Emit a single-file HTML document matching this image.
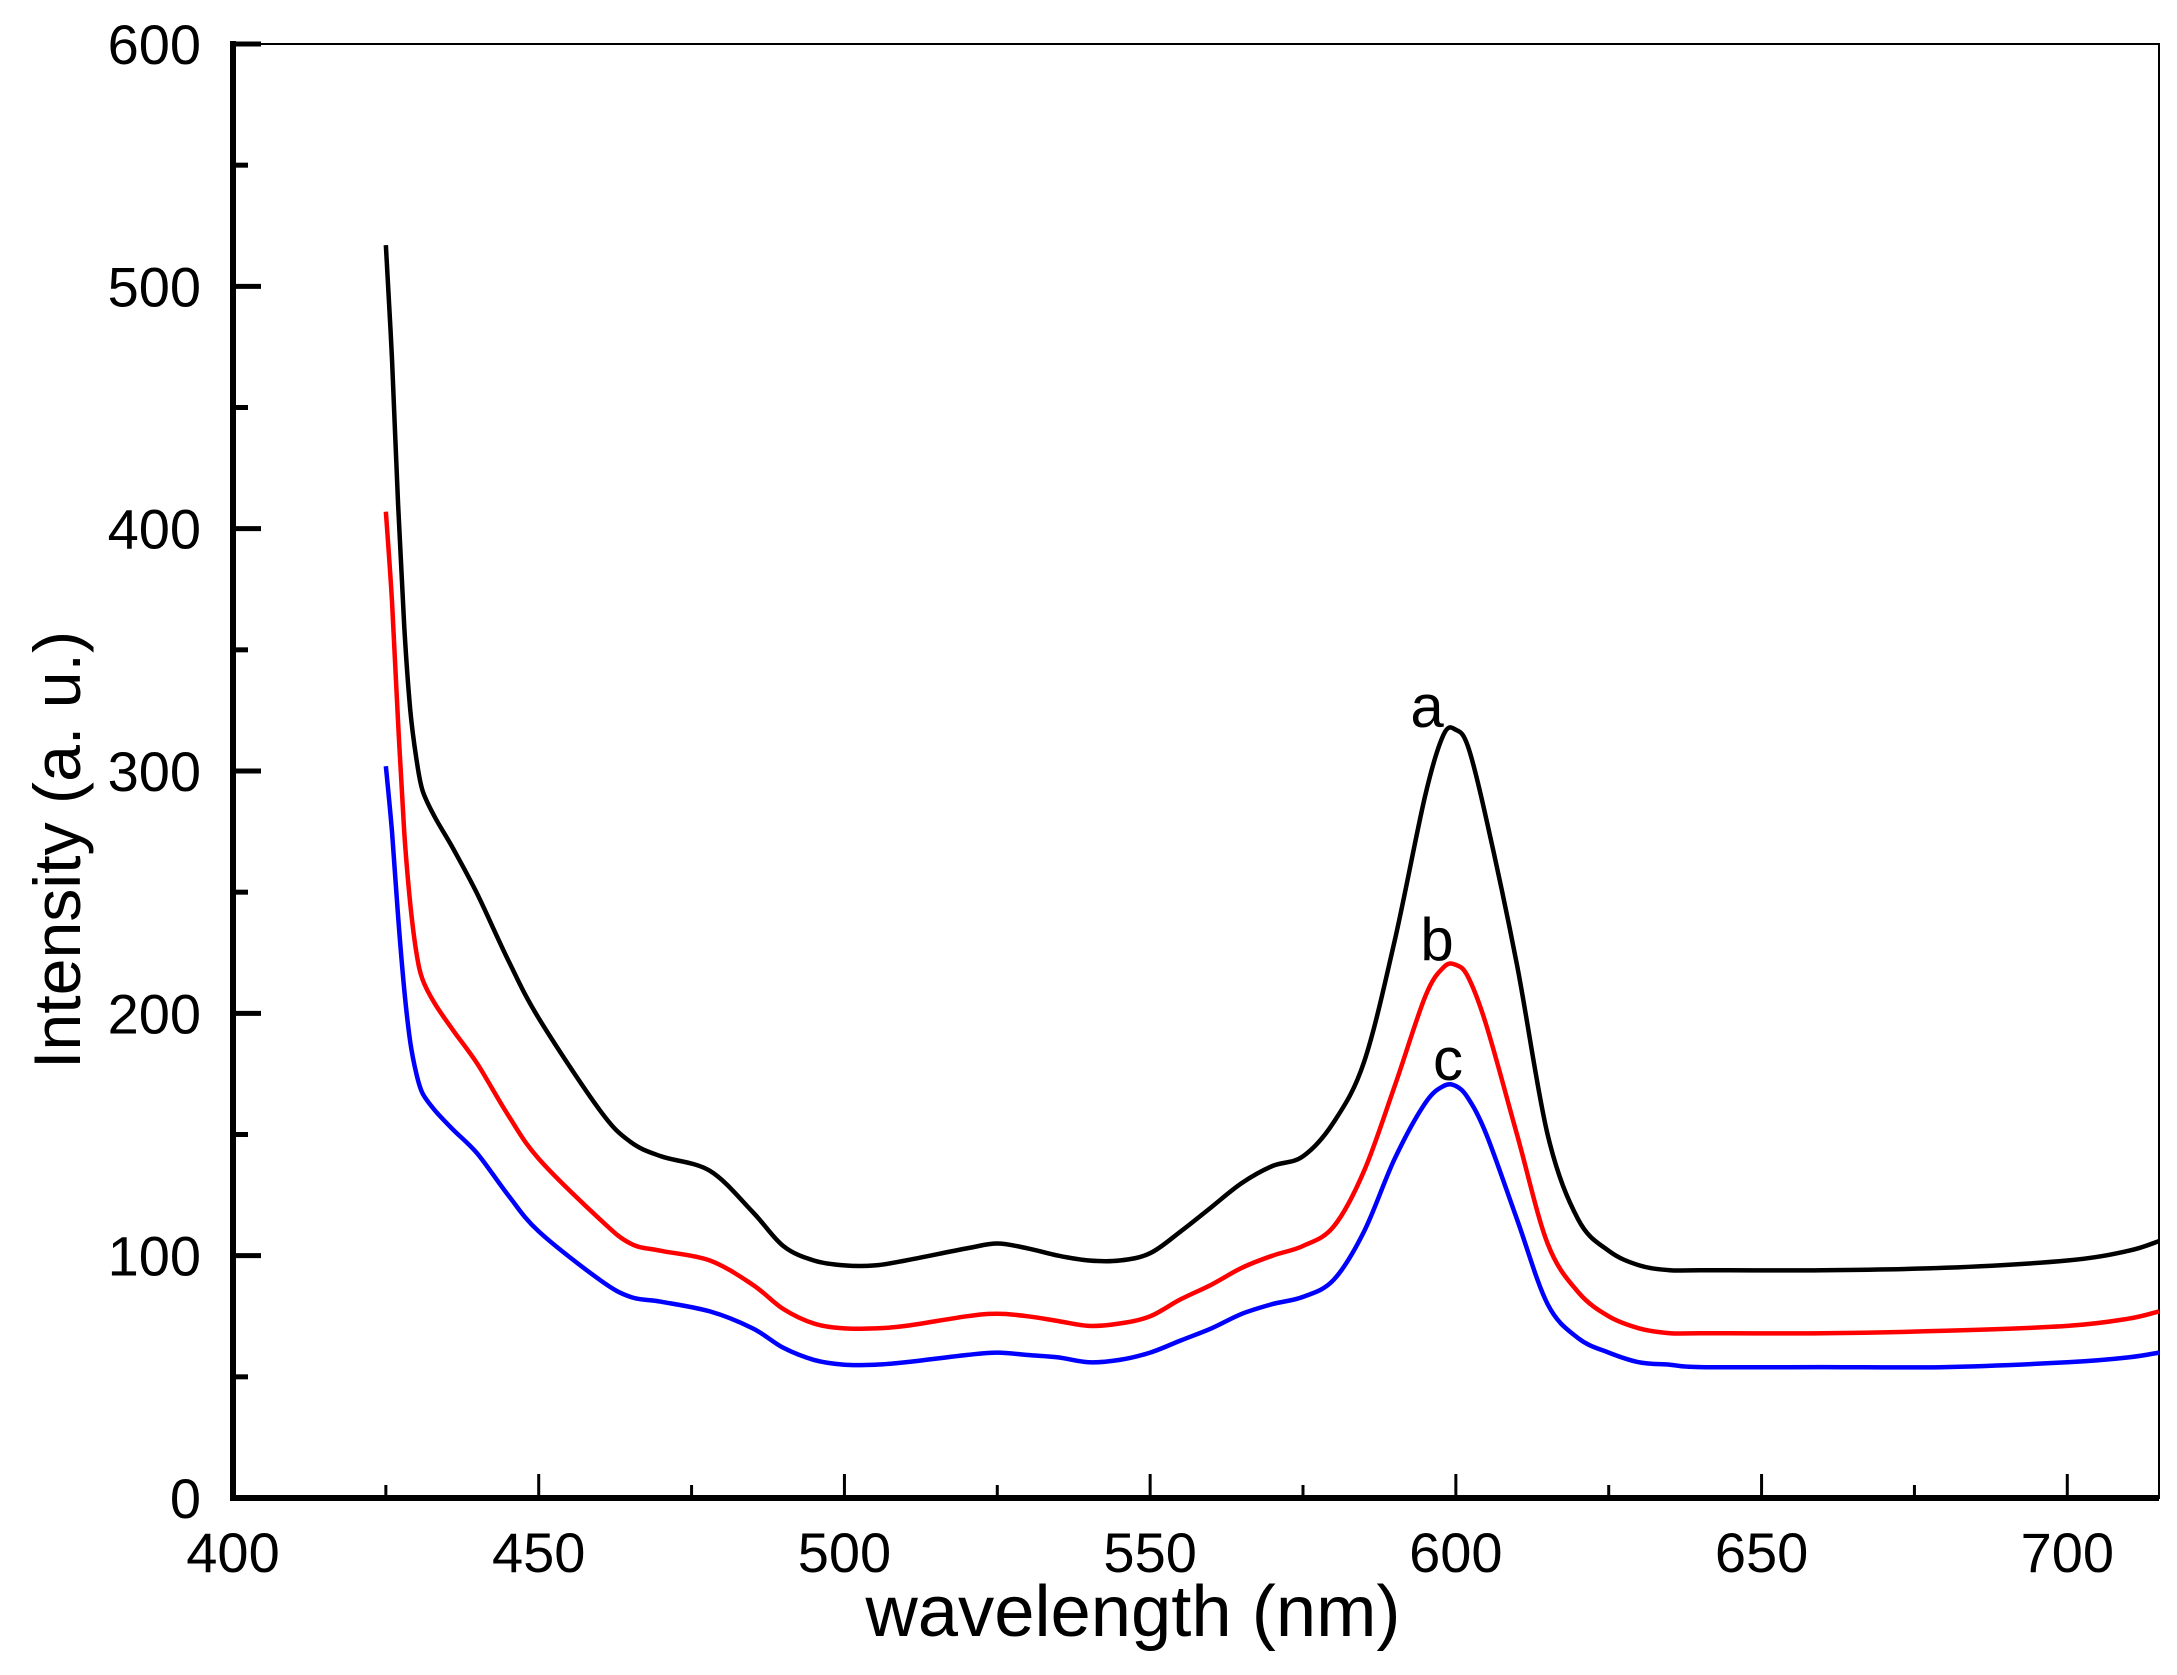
<!DOCTYPE html>
<html><head><meta charset="utf-8"><style>
html,body{margin:0;padding:0;background:#fff}
svg{display:block}
text{font-family:"Liberation Sans",Arial,sans-serif}
</style></head><body>
<svg id="chart" width="2177" height="1675" viewBox="0 0 2177 1675" xmlns="http://www.w3.org/2000/svg">
<g id="axes"></g>
<g id="series"></g>
<text x="1133" y="1636" font-size="72" text-anchor="middle" textLength="535" lengthAdjust="spacingAndGlyphs">wavelength (nm)</text>
<text x="0" y="0" font-size="66" text-anchor="middle" textLength="438" lengthAdjust="spacingAndGlyphs" transform="translate(80,850) rotate(-90)">Intensity (a. u.)</text>
<text x="1427" y="727" font-size="60" text-anchor="middle">a</text>
<text x="1437" y="960" font-size="60" text-anchor="middle">b</text>
<text x="1448" y="1080" font-size="60" text-anchor="middle">c</text>
</svg>
<script>
const xTicks=[400,450,500,550,600,650,700];
const yTicks=[0,100,200,300,400,500,600];
const wavelengths=[425,426,427,428,429,430,431,433,436,440,445,450,460,465,470,478,485,490,495,500,505,510,520,525,530,535,540,545,550,555,560,565,570,575,580,585,590,595,598,600,602,605,610,615,620,625,630,635,640,660,680,700,710,715];
const seriesA=[517,470,410,360,325,305,292,281,268,249,222,198,160,147,141,135,118,104,98,96,96,98,103,105,103,100,98,98,101,110,120,130,137,141,155,180,230,290,315,317,310,280,220,150,115,102,96,94,94,94,95,98,102,106];
const seriesB=[407,370,320,275,245,225,214,204,193,179,158,140,115,105,102,98,88,78,72,70,70,71,75,76,75,73,71,72,75,82,88,95,100,104,112,135,170,207,219,220,215,195,150,105,85,75,70,68,68,68,69,71,74,77];
const seriesC=[302,275,240,210,188,175,167,160,152,142,125,110,90,83,81,77,70,62,57,55,55,56,59,60,59,58,56,57,60,65,70,76,80,83,90,110,140,163,170,170,165,150,115,80,66,60,56,55,54,54,54,56,58,60];
const NS='http://www.w3.org/2000/svg';
const X0=233,X1=2159,Y0=1498,Y1=44,xmin=400,xmax=715,ymin=0,ymax=600;
const sx=v=>X0+(v-xmin)/(xmax-xmin)*(X1-X0);
const sy=v=>Y0-(v-ymin)/(ymax-ymin)*(Y0-Y1);
function mk(tag,attrs,parent){const e=document.createElementNS(NS,tag);for(const k in attrs)e.setAttribute(k,attrs[k]);parent.appendChild(e);return e;}
const axes=document.getElementById('axes');
let e;
e=mk('rect',{x:X0,y:Y1,width:X1-X0,height:Y0-Y1,fill:'none',stroke:'#000','stroke-width':2},axes);


e=mk('line',{x1:X0,y1:Y1-3,x2:X0,y2:Y0+3,stroke:'#000','stroke-width':6},axes);


e=mk('line',{x1:X0-3,y1:Y0,x2:X1,y2:Y0,stroke:'#000','stroke-width':6},axes);


for(let v=400;v<=715;v+=25){const maj=v%50===0;
 e=mk('line',{x1:sx(v),y1:Y0,x2:sx(v),y2:Y0-(maj?24:13),stroke:'#000','stroke-width':3},axes);
 
 }
xTicks.forEach(v=>{e=mk('text',{x:sx(v),y:1572,'font-size':56,'text-anchor':'middle'},axes);e.textContent=v;
 
 });
for(let v=0;v<=600;v+=50){const maj=v%100===0;
 e=mk('line',{x1:X0,y1:sy(v),x2:X0+(maj?28:15),y2:sy(v),stroke:'#000','stroke-width':5},axes);
 
 }
yTicks.forEach(v=>{e=mk('text',{x:201,y:sy(v)+20,'font-size':56,'text-anchor':'end'},axes);e.textContent=v;
 
 });
function pathFor(ys){const p=wavelengths.map((w,i)=>[sx(w),sy(ys[i])]);let d='M'+p[0][0]+','+p[0][1];
 for(let i=0;i<p.length-1;i++){const a=p[Math.max(0,i-1)],b=p[i],c=p[i+1],dd=p[Math.min(p.length-1,i+2)];
  const c1=[b[0]+(c[0]-a[0])/6,b[1]+(c[1]-a[1])/6],c2=[c[0]-(dd[0]-b[0])/6,c[1]-(dd[1]-b[1])/6];
  d+=' C'+c1[0].toFixed(1)+','+c1[1].toFixed(1)+' '+c2[0].toFixed(1)+','+c2[1].toFixed(1)+' '+c[0].toFixed(1)+','+c[1].toFixed(1);}
 return d;}
const sg=document.getElementById('series');
e=mk('path',{d:pathFor(seriesC),fill:'none',stroke:'#0000ff','stroke-width':4.5},sg);


e=mk('path',{d:pathFor(seriesB),fill:'none',stroke:'#ff0000','stroke-width':4.5},sg);


e=mk('path',{d:pathFor(seriesA),fill:'none',stroke:'#000000','stroke-width':4.5},sg);


</script>
</body></html>
